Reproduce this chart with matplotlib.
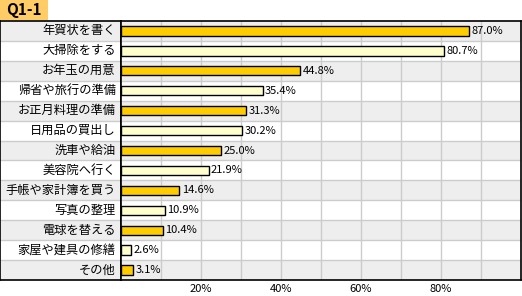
import matplotlib
matplotlib.use("Agg")
import matplotlib.pyplot as plt
from matplotlib.patches import Rectangle

plt.rcParams['font.family'] = ['Noto Sans CJK JP', 'DejaVu Sans']

labels = ["年賀状を書く", "大掃除をする", "お年玉の用意", "帰省や旅行の準備", "お正月料理の準備",
          "日用品の買出し", "洗車や給油", "美容院へ行く", "手帳や家計簿を買う", "写真の整理",
          "電球を替える", "家屋や建具の修繕", "その他"]
values = [87.0, 80.7, 44.8, 35.4, 31.3, 30.2, 25.0, 21.9, 14.6, 10.9, 10.4, 2.6, 3.1]
xticks = [20, 40, 60, 80]

W, H = 522, 296
fig = plt.figure(figsize=(W / 100, H / 100), dpi=100)
top, bot, split, right = 21, 280, 121, 521
n = len(labels)

axl = fig.add_axes([0, (H - bot) / H, split / W, (bot - top) / H])
ax = fig.add_axes([split / W, (H - bot) / H, (right - split) / W, (bot - top) / H])

for a in (axl, ax):
    a.set_ylim(n - 0.5, -0.5)
    for i in range(n):
        a.axhspan(i - 0.5, i + 0.5, color="#eeeeee" if i % 2 == 0 else "white", lw=0, zorder=0)
        if i > 0:
            a.axhline(i - 0.5, color="#cccccc", lw=1, zorder=1)
    a.set_yticks([])
    for s in a.spines.values():
        s.set_color("black")
        s.set_linewidth(1.2)

axl.set_xlim(0, 1)
axl.set_xticks([])
for i, lab in enumerate(labels):
    axl.text(0.955, i, lab, ha="right", va="center", fontsize=8.8)

ax.set_xlim(0, 100)
for g in range(10, 100, 10):
    ax.axvline(g, color="#cccccc", lw=1, zorder=1)
colors = ["#ffcc00" if i % 2 == 0 else "#ffffcc" for i in range(n)]
ax.barh(range(n), values, height=0.47, color=colors, edgecolor="black", lw=1, zorder=3)
for i, v in enumerate(values):
    ax.text(v + 0.6, i, f"{v:.1f}%", ha="left", va="center", fontsize=8, zorder=4)
ax.set_xticks(xticks)
ax.set_xticklabels([f"{t}%" for t in xticks], fontsize=8)
ax.tick_params(axis="x", length=0, pad=3)

fig.patches.append(Rectangle((0, (H - 20) / H), 48 / W, 20 / H, transform=fig.transFigure,
                             facecolor="#ffcc66", edgecolor="none"))
fig.text(24 / W, (H - 10) / H, "Q1-1", ha="center", va="center", fontsize=11, weight="bold")

fig.savefig("out.png", dpi=100)
